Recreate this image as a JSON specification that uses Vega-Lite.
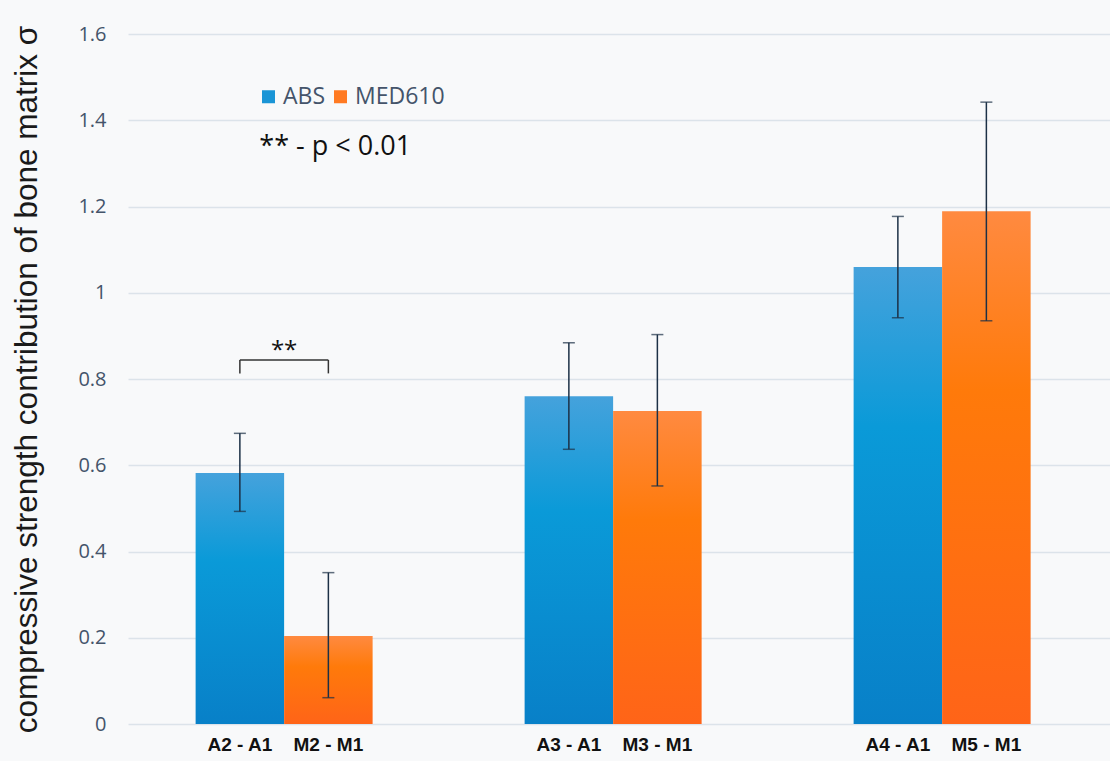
{
  "$schema": "https://vega.github.io/schema/vega-lite/v6.json",
  "width": 982,
  "height": 690,
  "autosize": {"type": "none"},
  "padding": {"left": 128, "top": 34, "right": 0, "bottom": 37},
  "background": "#f8f9fa",
  "config": {"view": {"stroke": null}},
  "datasets": {
    "bars": [
      {"group": "G1", "series": "ABS", "label": "A2 - A1", "value": 0.582, "lo": 0.493, "hi": 0.674},
      {"group": "G1", "series": "MED610", "label": "M2 - M1", "value": 0.204, "lo": 0.061, "hi": 0.351},
      {"group": "G2", "series": "ABS", "label": "A3 - A1", "value": 0.760, "lo": 0.637, "hi": 0.884},
      {"group": "G2", "series": "MED610", "label": "M3 - M1", "value": 0.726, "lo": 0.552, "hi": 0.903},
      {"group": "G3", "series": "ABS", "label": "A4 - A1", "value": 1.060, "lo": 0.942, "hi": 1.177},
      {"group": "G3", "series": "MED610", "label": "M5 - M1", "value": 1.189, "lo": 0.935, "hi": 1.442}
    ],
    "bracket": [
      {"group": "G1", "series": "ABS", "lo": 0.813, "hi": 0.844},
      {"group": "G1", "series": "MED610", "lo": 0.813, "hi": 0.844}
    ]
  },
  "encoding": {
    "x": {
      "field": "group",
      "type": "nominal",
      "axis": null,
      "scale": {"domain": ["G1", "G2", "G3"], "paddingInner": 0.462, "paddingOuter": 0.2234, "align": 0.46}
    }
  },
  "layer": [
    {
      "data": {"name": "bars"},
      "mark": {"type": "bar", "opacity": 0},
      "encoding": {
        "xOffset": {"field": "series", "type": "nominal", "scale": {"domain": ["ABS", "MED610"]}},
        "y": {
          "field": "value",
          "type": "quantitative",
          "scale": {"domain": [0, 1.6], "nice": false},
          "axis": {
            "values": [0, 0.2, 0.4, 0.6, 0.8, 1, 1.2, 1.4, 1.6],
            "format": "~g",
            "grid": true,
            "gridColor": "#dce3ea",
            "gridWidth": 1.5,
            "domain": false,
            "ticks": false,
            "labelPadding": 22,
            "labelFont": "Open Sans",
            "labelFontSize": 20,
            "labelColor": "#44546a",
            "title": "compressive strength contribution of bone matrix σ",
            "titleFont": "Liberation Sans",
            "titleFontSize": 31.5,
            "titleFontWeight": "normal",
            "titleColor": "#1a1a1a",
            "titleAngle": -90,
            "titleX": -92,
            "titleY": 345,
            "titleAlign": "center",
            "titleBaseline": "alphabetic"
          }
        },
        "color": {
          "field": "series",
          "type": "nominal",
          "scale": {"domain": ["ABS", "MED610"], "range": ["#1a95d6", "#ff7a22"]},
          "legend": {
            "title": null,
            "orient": "none",
            "legendX": 129,
            "legendY": 51,
            "direction": "horizontal",
            "symbolType": "square",
            "symbolSize": 169,
            "symbolOpacity": 1,
            "symbolStrokeWidth": 0,
            "labelFont": "Open Sans",
            "labelFontSize": 23,
            "labelColor": "#44546a",
            "labelOffset": 3,
            "columnPadding": 3
          }
        }
      }
    },
    {
      "data": {"name": "bars"},
      "transform": [{"filter": "datum.series === 'ABS'"}],
      "mark": {
        "type": "bar",
        "fill": {
          "gradient": "linear", "x1": 0, "y1": 0, "x2": 0, "y2": 1,
          "stops": [
            {"offset": 0, "color": "#45a2dc"},
            {"offset": 0.35, "color": "#0a9ad8"},
            {"offset": 1, "color": "#0880c8"}
          ]
        }
      },
      "encoding": {
        "xOffset": {"field": "series", "type": "nominal", "scale": {"domain": ["ABS", "MED610"]}},
        "y": {"field": "value", "type": "quantitative"}
      }
    },
    {
      "data": {"name": "bars"},
      "transform": [{"filter": "datum.series === 'MED610'"}],
      "mark": {
        "type": "bar",
        "fill": {
          "gradient": "linear", "x1": 0, "y1": 0, "x2": 0, "y2": 1,
          "stops": [
            {"offset": 0, "color": "#ff8a40"},
            {"offset": 0.35, "color": "#ff7a0a"},
            {"offset": 1, "color": "#ff6418"}
          ]
        }
      },
      "encoding": {
        "xOffset": {"field": "series", "type": "nominal", "scale": {"domain": ["ABS", "MED610"]}},
        "y": {"field": "value", "type": "quantitative"}
      }
    },
    {
      "data": {"name": "bars"},
      "mark": {"type": "rule", "color": "#1c3046", "strokeWidth": 1.5},
      "encoding": {
        "xOffset": {"field": "series", "type": "nominal", "scale": {"domain": ["ABS", "MED610"]}},
        "y": {"field": "lo", "type": "quantitative"},
        "y2": {"field": "hi"}
      }
    },
    {
      "data": {"name": "bars"},
      "mark": {"type": "tick", "color": "#1c3046", "size": 12, "thickness": 1.5},
      "encoding": {
        "xOffset": {"field": "series", "type": "nominal", "scale": {"domain": ["ABS", "MED610"]}},
        "y": {"field": "lo", "type": "quantitative"}
      }
    },
    {
      "data": {"name": "bars"},
      "mark": {"type": "tick", "color": "#1c3046", "size": 12, "thickness": 1.5},
      "encoding": {
        "xOffset": {"field": "series", "type": "nominal", "scale": {"domain": ["ABS", "MED610"]}},
        "y": {"field": "hi", "type": "quantitative"}
      }
    },
    {
      "data": {"name": "bars"},
      "mark": {"type": "text", "font": "Liberation Sans", "fontWeight": "bold", "fontSize": 19, "color": "#111111", "baseline": "middle", "dy": 21},
      "encoding": {
        "xOffset": {"field": "series", "type": "nominal", "scale": {"domain": ["ABS", "MED610"]}},
        "y": {"datum": 0, "type": "quantitative"},
        "text": {"field": "label"}
      }
    },
    {
      "data": {"name": "bracket"},
      "mark": {"type": "rule", "color": "#333333", "strokeWidth": 1.5},
      "encoding": {
        "xOffset": {"field": "series", "type": "nominal", "scale": {"domain": ["ABS", "MED610"]}},
        "y": {"field": "lo", "type": "quantitative"},
        "y2": {"field": "hi"}
      }
    },
    {
      "data": {"name": "bracket"},
      "transform": [{"filter": "datum.series === 'ABS'"}],
      "mark": {"type": "rule", "color": "#333333", "strokeWidth": 1.5},
      "encoding": {
        "x": {"field": "group", "type": "nominal", "bandPosition": 0.25},
        "x2": {"field": "group", "bandPosition": 0.75},
        "y": {"field": "hi", "type": "quantitative"}
      }
    },
    {
      "data": {"values": [{"group": "G1", "note": "**"}]},
      "mark": {"type": "text", "font": "Open Sans", "fontSize": 24, "color": "#111111", "baseline": "middle", "align": "center"},
      "encoding": {
        "y": {"datum": 0.866, "type": "quantitative"},
        "text": {"field": "note"}
      }
    },
    {
      "data": {"values": [{"group": "G1", "note": "** - p < 0.01"}]},
      "mark": {"type": "text", "font": "Open Sans", "fontSize": 27, "color": "#111111", "baseline": "middle", "align": "left"},
      "encoding": {
        "x": {"field": "group", "type": "nominal", "bandPosition": 0.36},
        "y": {"datum": 1.338, "type": "quantitative"},
        "text": {"field": "note"}
      }
    }
  ]
}
